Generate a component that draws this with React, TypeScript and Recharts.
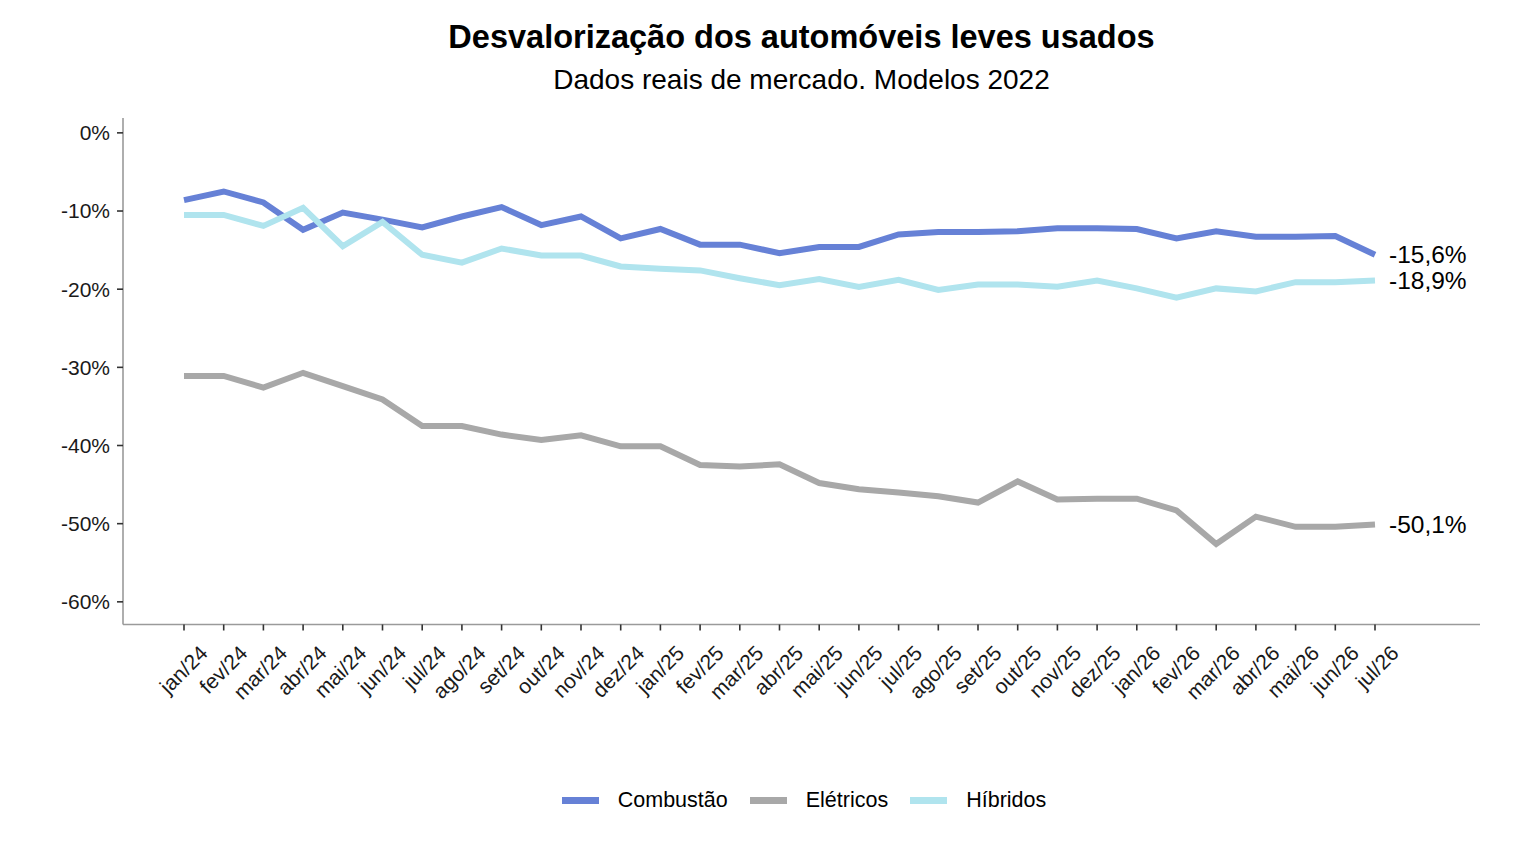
import React from 'react';
import { LineChart, Line, XAxis, YAxis, Legend } from 'recharts';

const meses = ['jan/24','fev/24','mar/24','abr/24','mai/24','jun/24','jul/24','ago/24','set/24','out/24','nov/24','dez/24','jan/25','fev/25','mar/25','abr/25','mai/25','jun/25','jul/25','ago/25','set/25','out/25','nov/25','dez/25','jan/26','fev/26','mar/26','abr/26','mai/26','jun/26','jul/26'];

const combustao = [-8.6,-7.5,-8.9,-12.4,-10.2,-11.1,-12.1,-10.7,-9.5,-11.8,-10.7,-13.5,-12.3,-14.3,-14.3,-15.4,-14.6,-14.6,-13.0,-12.7,-12.7,-12.6,-12.2,-12.2,-12.3,-13.5,-12.6,-13.3,-13.3,-13.2,-15.6];

const eletricos = [-31.1,-31.1,-32.6,-30.7,-32.4,-34.1,-37.5,-37.5,-38.6,-39.3,-38.7,-40.1,-40.1,-42.5,-42.7,-42.4,-44.8,-45.6,-46.0,-46.5,-47.3,-44.6,-46.9,-46.8,-46.8,-48.3,-52.6,-49.1,-50.4,-50.4,-50.1];

const hibridos = [-10.5,-10.5,-11.9,-9.6,-14.5,-11.4,-15.6,-16.6,-14.8,-15.7,-15.7,-17.1,-17.4,-17.6,-18.6,-19.5,-18.7,-19.7,-18.8,-20.1,-19.4,-19.4,-19.7,-18.9,-19.9,-21.1,-19.9,-20.3,-19.1,-19.1,-18.9];

const yTicks = [0, -10, -20, -30, -40, -50, -60];

const series = [
  { key: 'combustao', name: 'Combustão', color: '#6681D6' },
  { key: 'eletricos', name: 'Elétricos', color: '#A8A8A8' },
  { key: 'hibridos', name: 'Híbridos', color: '#B0E4EE' },
];

const data = meses.map((m, i) => ({
  mes: m,
  combustao: combustao[i],
  eletricos: eletricos[i],
  hibridos: hibridos[i],
}));

const FONT = '"Liberation Sans", Arial, sans-serif';
const last = meses.length - 1;

const fmt = (v: number) => v.toFixed(1).replace('.', ',') + '%';

const XTick = (props: any) => {
  const { x, y, payload } = props;
  const ax = x + 25;
  const ay = y + 22;
  return (
    <text
      x={ax}
      y={ay}
      transform={`rotate(-45, ${ax}, ${ay})`}
      textAnchor="end"
      fontSize={21}
      fontFamily={FONT}
      fill="#1a1a1a"
    >
      {payload.value}
    </text>
  );
};

const endLabel = (props: any) => {
  const { x, y, index, value } = props;
  if (index !== last) return <g />;
  return (
    <text
      x={x + 14}
      y={y}
      dominantBaseline="central"
      fontSize={24.5}
      fontFamily={FONT}
      fill="#000"
    >
      {fmt(value)}
    </text>
  );
};

const LegendContent = () => (
  <div
    style={{
      height: 40,
      display: 'flex',
      justifyContent: 'center',
      alignItems: 'center',
      paddingLeft: 120,
      fontFamily: FONT,
      fontSize: 21.5,
      color: '#000',
      boxSizing: 'border-box',
    }}
  >
    {series.map((s, i) => (
      <div key={s.key} style={{ display: 'flex', alignItems: 'center', marginLeft: i === 0 ? 0 : 22 }}>
        <span style={{ display: 'inline-block', width: 37, height: 7, background: s.color, marginRight: 19 }} />
        <span>{s.name}</span>
      </div>
    ))}
  </div>
);

export default function App() {
  return (
    <div style={{ position: 'relative', width: 1520, height: 848, fontFamily: FONT, background: '#fff' }}>
      <div
        style={{
          position: 'absolute',
          left: 115,
          width: 1357,
          top: 13,
          textAlign: 'center',
          fontSize: 32.5,
          lineHeight: '32px',
          fontWeight: 'bold',
          color: '#000',
          zIndex: 2,
        }}
      >
        Desvalorização dos automóveis leves usados
      </div>
      <div
        style={{
          position: 'absolute',
          left: 115,
          width: 1357,
          top: 58,
          textAlign: 'center',
          fontSize: 28,
          lineHeight: '28px',
          color: '#000',
          zIndex: 2,
        }}
      >
        Dados reais de mercado. Modelos 2022
      </div>
      <LineChart width={1520} height={848} data={data} margin={{ top: 110, right: 48, bottom: 36, left: 0 }}>
        <XAxis
          dataKey="mes"
          interval={0}
          padding={{ left: 61, right: 105 }}
          height={155.5}
          tickSize={6}
          tickMargin={2}
          axisLine={{ stroke: '#9a9a9a', strokeWidth: 1.6 }}
          tickLine={{ stroke: '#333', strokeWidth: 1.6 }}
          tick={<XTick />}
        />
        <YAxis
          width={115}
          domain={[-62.9, 1.9]}
          ticks={yTicks}
          tickSize={6}
          tickMargin={7}
          tickFormatter={(v: number) => `${v}%`}
          axisLine={{ stroke: '#9a9a9a', strokeWidth: 1.6 }}
          tickLine={{ stroke: '#333', strokeWidth: 1.6 }}
          tick={{ fontSize: 21, fontFamily: FONT, fill: '#1a1a1a' }}
        />
        <Legend verticalAlign="bottom" content={<LegendContent />} />
        {series.map((s) => (
          <Line
            key={s.key}
            dataKey={s.key}
            name={s.name}
            type="linear"
            stroke={s.color}
            strokeWidth={6}
            dot={false}
            activeDot={false}
            isAnimationActive={false}
            label={endLabel}
          />
        ))}
      </LineChart>
    </div>
  );
}
